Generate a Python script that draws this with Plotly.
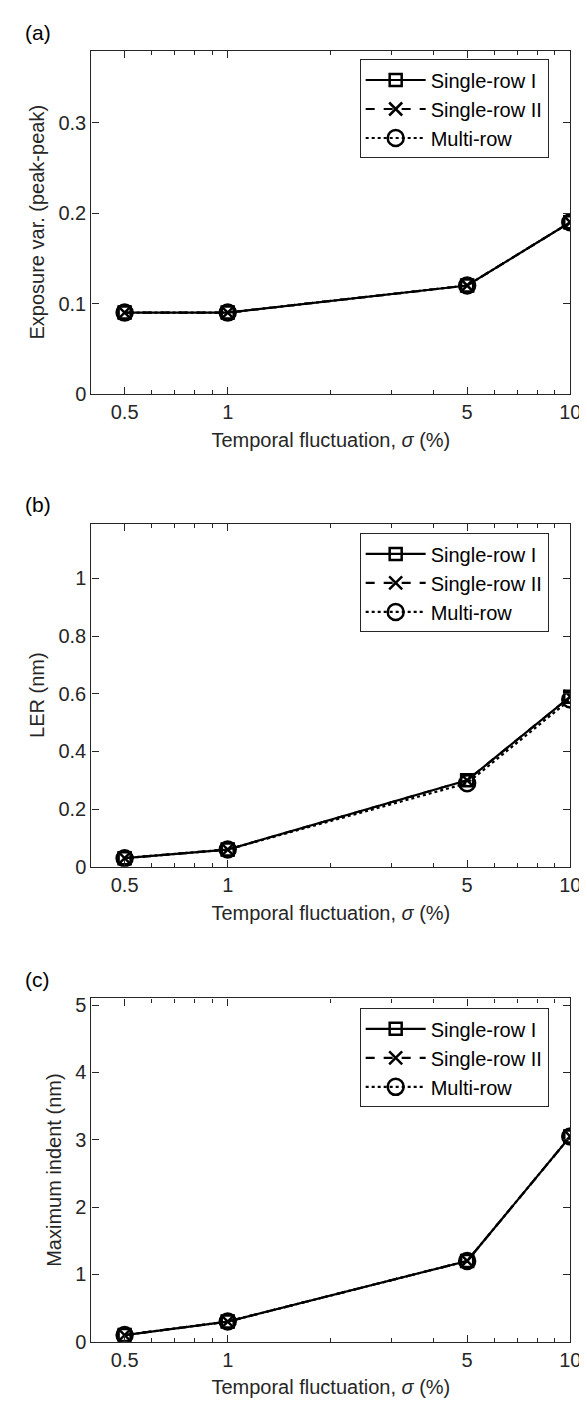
import plotly.graph_objects as go
import numpy as np

sigma = [0.5, 1, 5, 10]
names = ["Single-row I", "Single-row II", "Multi-row"]

exp_single1 = [0.09, 0.09, 0.12, 0.19]
exp_single2 = [0.09, 0.09, 0.12, 0.19]
exp_multi = [0.09, 0.09, 0.12, 0.19]

ler_single1 = [0.03, 0.06, 0.30, 0.59]
ler_single2 = [0.03, 0.06, 0.30, 0.59]
ler_multi = [0.03, 0.06, 0.29, 0.58]

ind_single1 = [0.10, 0.30, 1.20, 3.05]
ind_single2 = [0.10, 0.30, 1.20, 3.05]
ind_multi = [0.10, 0.30, 1.20, 3.05]

x_ticks = [0.5, 1, 5, 10]
x_ticktext = ["0.5", "1", "5", "10"]
x_minor = [0.4, 0.6, 0.7, 0.8, 0.9, 2, 3, 4, 6, 7, 8, 9]

panels = [
    dict(label="(a)", ytitle="Exposure var. (peak-peak)", series=[exp_single1, exp_single2, exp_multi],
         yrange=[0, 0.38], yticks=[0, 0.1, 0.2, 0.3], ytext=["0", "0.1", "0.2", "0.3"]),
    dict(label="(b)", ytitle="LER (nm)", series=[ler_single1, ler_single2, ler_multi],
         yrange=[0, 1.19], yticks=[0, 0.2, 0.4, 0.6, 0.8, 1], ytext=["0", "0.2", "0.4", "0.6", "0.8", "1"]),
    dict(label="(c)", ytitle="Maximum indent (nm)", series=[ind_single1, ind_single2, ind_multi],
         yrange=[0, 5.1], yticks=[0, 1, 2, 3, 4, 5], ytext=["0", "1", "2", "3", "4", "5"]),
]

W, H = 587, 1417
boxes = [(39, 386), (517, 864), (997, 1344)]
legend_tops = [48, 527, 1007]
label_y = [21, 498, 978]
xl, xr = 85, 573

styles = [
    dict(dash="solid", symbol="square-open", size=12),
    dict(dash="dash", symbol="x-thin-open", size=13),
    dict(dash="dot", symbol="circle-open", size=16),
]

axis_col = "#262626"
font_fam = "Liberation Sans, Arial, sans-serif"
FS = 20
xtitle = "Temporal fluctuation, <i>σ</i> (%)"

fig = go.Figure()
for i, p in enumerate(panels):
    n = i + 1
    xa = "x" if n == 1 else f"x{n}"
    ya = "y" if n == 1 else f"y{n}"
    leg = "legend" if n == 1 else f"legend{n}"
    for j, s in enumerate(p["series"]):
        st = styles[j]
        fig.add_trace(go.Scatter(
            x=sigma, y=s, name=names[j], mode="lines+markers",
            line=dict(color="black", width=2.2, dash=st["dash"]),
            marker=dict(symbol=st["symbol"], size=st["size"], color="black",
                        line=dict(color="black", width=2.5)),
            xaxis=xa, yaxis=ya, legend=leg,
        ))
    top, bot = boxes[i]
    xkey = "xaxis" if n == 1 else f"xaxis{n}"
    ykey = "yaxis" if n == 1 else f"yaxis{n}"
    fig.update_layout(**{
        xkey: dict(
            type="log", range=[np.log10(0.4), 1.0], domain=[xl / W, xr / W],
            anchor=ya, tickvals=x_ticks, ticktext=x_ticktext,
            ticks="inside", ticklen=7, tickwidth=1, tickcolor=axis_col,
            minor=dict(tickvals=x_minor, ticks="inside", ticklen=4, tickcolor=axis_col, tickwidth=1, showgrid=False),
            showline=True, linecolor=axis_col, linewidth=1.3, mirror="ticks",
            showgrid=False, zeroline=False,
            tickfont=dict(size=FS, color=axis_col, family=font_fam),
            title=dict(text=xtitle, standoff=10,
                       font=dict(size=FS, color=axis_col, family=font_fam)),
        ),
        ykey: dict(
            range=p["yrange"], domain=[1 - bot / H, 1 - top / H], anchor=xa,
            tickvals=p["yticks"], ticktext=p["ytext"], ticksuffix=" ",
            ticks="inside", ticklen=7, tickwidth=1, tickcolor=axis_col,
            showline=True, linecolor=axis_col, linewidth=1.3, mirror="ticks",
            showgrid=False, zeroline=False,
            tickfont=dict(size=FS, color=axis_col, family=font_fam),
            title=dict(text=p["ytitle"], standoff=8,
                       font=dict(size=FS, color=axis_col, family=font_fam)),
        ),
        leg: dict(
            x=551 / W, y=1 - legend_tops[i] / H, xanchor="right", yanchor="top",
            bgcolor="white", bordercolor=axis_col, borderwidth=1,
            font=dict(size=FS, color="black", family=font_fam),
            tracegroupgap=0, itemwidth=60,
        ),
    })
    fig.add_annotation(text=p["label"], xref="paper", yref="paper",
                       x=15 / W, y=1 - label_y[i] / H, xanchor="left", yanchor="middle",
                       showarrow=False, font=dict(size=FS + 1, color="black", family=font_fam))

fig.update_layout(width=W, height=H, margin=dict(l=0, r=0, t=0, b=0),
                  paper_bgcolor="white", plot_bgcolor="white", showlegend=True)

fig.write_html("out.html")
